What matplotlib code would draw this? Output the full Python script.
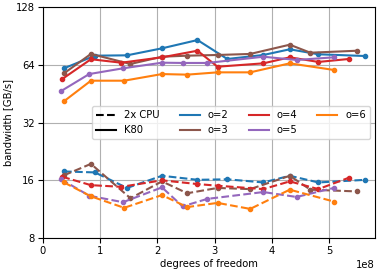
from matplotlib import pyplot as plt
from matplotlib.lines import Line2D
from matplotlib.ticker import FixedLocator, FixedFormatter, NullLocator

# degrees of freedom (x1e8) per order
x_o2 = [0.37, 0.91, 1.47, 2.08, 2.70, 3.22, 3.85, 4.31, 4.81, 5.63]
x_o3 = [0.37, 0.84, 1.53, 2.08, 2.52, 3.05, 3.62, 4.31, 4.67, 5.49]
x_o4 = [0.34, 0.84, 1.37, 2.08, 2.70, 3.05, 3.85, 4.31, 4.81, 5.34]
x_o5 = [0.32, 0.81, 1.40, 2.08, 2.44, 2.87, 3.85, 4.43, 5.08]
x_o6 = [0.37, 0.84, 1.42, 2.08, 2.52, 3.05, 3.62, 4.31, 5.08]

# bandwidth [GB/s], K80
k80_o2 = [61.5, 71.6, 71.9, 78.2, 86.4, 68.8, 72.2, 77.3, 72.8, 71.3]
k80_o3 = [57.9, 73.1, 64.8, 70.7, 71.6, 72.2, 73.1, 81.7, 74.2, 76.0]
k80_o4 = [54.1, 68.6, 65.8, 70.2, 76.0, 62.7, 65.3, 70.2, 66.4, 68.8]
k80_o5 = [46.8, 57.4, 61.5, 65.8, 65.6, 65.6, 70.7, 68.0, 70.2]
k80_o6 = [41.4, 53.0, 53.0, 57.4, 57.0, 58.6, 58.6, 65.3, 60.3]

# bandwidth [GB/s], 2x CPU
cpu_o2 = [17.8, 17.6, 14.6, 16.9, 16.1, 16.2, 15.6, 16.9, 15.6, 16.1]
cpu_o3 = [17.0, 19.5, 12.9, 15.8, 13.7, 14.6, 14.4, 16.9, 14.3, 14.0]
cpu_o4 = [16.7, 15.1, 14.8, 16.0, 15.3, 15.0, 14.4, 15.8, 14.4, 16.5]
cpu_o5 = [16.2, 13.3, 12.3, 14.7, 11.7, 12.8, 13.9, 13.1, 14.6]
cpu_o6 = [15.6, 13.2, 11.5, 13.4, 11.6, 12.2, 11.35, 14.3, 12.4]

series = [
    ("o=2", "tab:blue", x_o2, k80_o2, cpu_o2),
    ("o=3", "tab:brown", x_o3, k80_o3, cpu_o3),
    ("o=4", "tab:red", x_o4, k80_o4, cpu_o4),
    ("o=5", "tab:purple", x_o5, k80_o5, cpu_o5),
    ("o=6", "tab:orange", x_o6, k80_o6, cpu_o6),
]

fs = 7.2

fig = plt.figure(figsize=(3.82, 2.72), dpi=100)
ax = fig.add_axes([0.112, 0.125, 0.870, 0.848])

for name, c, x, k, cp in series:
    xs = [v * 1e8 for v in x]
    ax.plot(xs, k, "-", marker=".", color=c, lw=1.5, ms=6)
    ax.plot(xs, cp, "--", marker=".", color=c, lw=1.5, ms=6)

ax.set_yscale("log", base=2)
ax.set_ylim(8, 128)
ax.set_xlim(0, 5.8e8)
yt = [8, 16, 32, 64, 128]
ax.yaxis.set_major_locator(FixedLocator(yt))
ax.yaxis.set_major_formatter(FixedFormatter([str(v) for v in yt]))
ax.yaxis.set_minor_locator(NullLocator())
ax.grid(True)
ax.set_xlabel("degrees of freedom", fontsize=fs, labelpad=2)
ax.set_ylabel("bandwidth [GB/s]", fontsize=fs, labelpad=2)
ax.tick_params(labelsize=fs, pad=2.5)
ax.xaxis.get_offset_text().set_fontsize(fs)

handles = [
    Line2D([], [], color="k", ls="--", lw=1.5),
    Line2D([], [], color="k", ls="-", lw=1.5),
]
labels = ["2x CPU", "K80"]
for name, c, x, k, cp in series:
    handles.append(Line2D([], [], color=c, lw=1.5))
    labels.append(name)
ax.legend(handles, labels, ncol=4, loc="center right", fontsize=fs)

fig.savefig("out.png", dpi=100)
